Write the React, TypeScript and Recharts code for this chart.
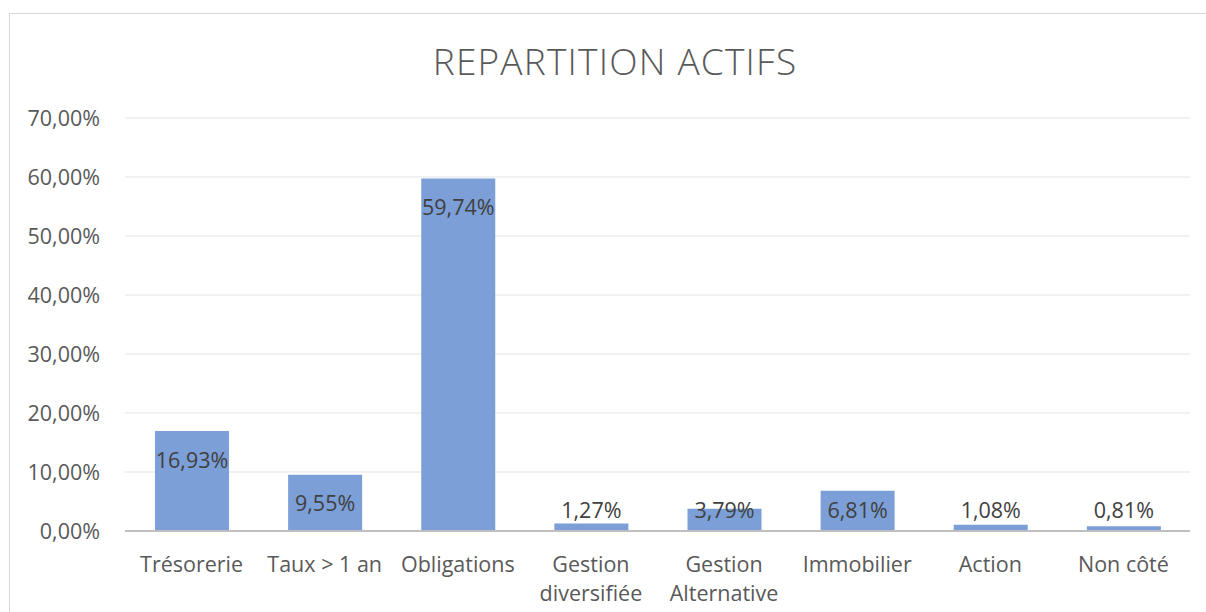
import React from "react";
import { BarChart, Bar, XAxis, YAxis, CartesianGrid, LabelList } from "recharts";

const categories = [
  "Trésorerie",
  "Taux > 1 an",
  "Obligations",
  "Gestion diversifiée",
  "Gestion Alternative",
  "Immobilier",
  "Action",
  "Non côté",
];
const values = [16.93, 9.55, 59.74, 1.27, 3.79, 6.81, 1.08, 0.81];
const yTicks = [0, 10, 20, 30, 40, 50, 60, 70];
const title = "REPARTITION ACTIFS";

const data = categories.map((name, i) => ({ name, value: values[i] }));

const FONT = "'Open Sans', 'Noto Sans', sans-serif";
const fmt = (v: number) => `${v.toFixed(2).replace(".", ",")}%`;

const XTick = (props: any) => {
  const { x, payload } = props;
  const axisY = props.y - 8;
  const text: string = payload.value;
  let lines = [text];
  if (text.length > 14 && text.indexOf(" ") > 0) {
    const i = text.indexOf(" ");
    lines = [text.slice(0, i), text.slice(i + 1)];
  }
  return (
    <g>
      {lines.map((l, i) => (
        <text
          key={i}
          x={x}
          y={axisY + 32 + i * 29}
          textAnchor="middle"
          dominantBaseline="central"
          fill="#595959"
          fontSize={21.5}
          fontFamily={FONT}
        >
          {l}
        </text>
      ))}
    </g>
  );
};

const BarLabel = (props: any) => {
  const { x, y, width, height, value } = props;
  const cy = Math.min(y + 28, y + height - 22);
  return (
    <text
      x={x + width / 2}
      y={cy}
      textAnchor="middle"
      dominantBaseline="central"
      fill="#404040"
      fontSize={21.5}
      fontFamily={FONT}
    >
      {fmt(value)}
    </text>
  );
};

export default function App() {
  return (
    <div
      style={{
        position: "absolute",
        left: 0,
        top: 0,
        width: 1206,
        height: 612,
        overflow: "hidden",
        background: "#fff",
      }}
    >
      <div
        style={{
          position: "absolute",
          left: 9,
          top: 13,
          width: 1400,
          height: 800,
          border: "1px solid #d9d9d9",
        }}
      />
      <div
        style={{
          position: "absolute",
          left: 0,
          width: 1230,
          top: 36,
          textAlign: "center",
          fontFamily: FONT,
          fontWeight: 300,
          fontSize: 37,
          color: "#595959",
          lineHeight: "50px",
          letterSpacing: 1.2,
        }}
      >
        {title}
      </div>
      <div style={{ position: "absolute", left: 0, top: 0 }}>
        <BarChart
          width={1206}
          height={612}
          data={data}
          margin={{ top: 118, right: 16, left: 0, bottom: 0 }}
        >
          <CartesianGrid vertical={false} stroke="#ececec" strokeWidth={1.5} />
          <YAxis
            width={125}
            domain={[0, 70]}
            ticks={yTicks}
            axisLine={false}
            tickLine={false}
            tickMargin={19}
            tickFormatter={fmt}
            tick={{ fill: "#595959", fontSize: 21.5, fontFamily: FONT }}
          />
          <XAxis
            dataKey="name"
            height={81}
            interval={0}
            tickLine={false}
            axisLine={{ stroke: "#bfbfbf", strokeWidth: 2 }}
            tick={<XTick />}
          />
          <Bar dataKey="value" fill="#7b9fd6" barSize={74} isAnimationActive={false}>
            <LabelList dataKey="value" content={<BarLabel />} />
          </Bar>
        </BarChart>
      </div>
    </div>
  );
}
